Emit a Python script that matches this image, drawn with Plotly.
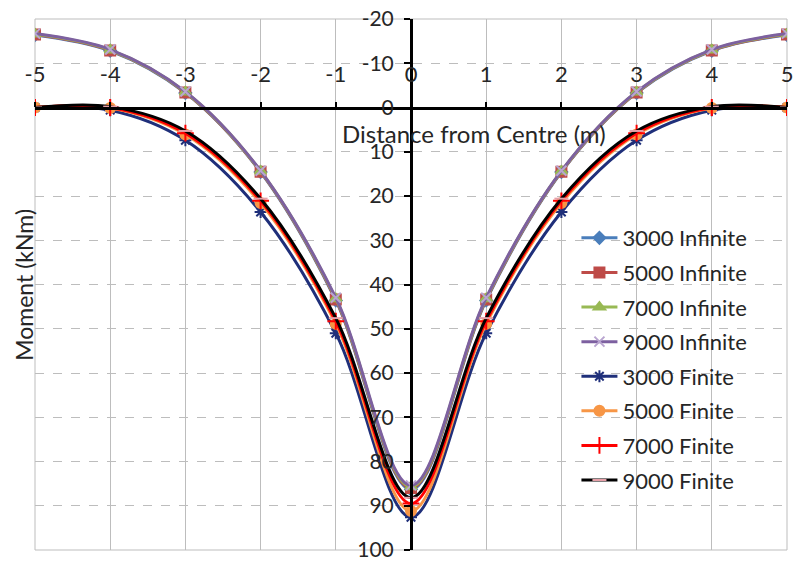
import plotly.graph_objects as go

# Distance from centre (m)
distance = [-5, -4, -3, -2, -1, 0, 1, 2, 3, 4, 5]

# Bending moment (kNm), infinite beam solutions
m_inf_3000 = [-16.4, -12.8, -3.3, 14.6, 43.6, 86.3, 43.6, 14.6, -3.3, -12.8, -16.4]
m_inf_5000 = [-16.5, -12.9, -3.4, 14.5, 43.4, 86.0, 43.4, 14.5, -3.4, -12.9, -16.5]
m_inf_7000 = [-16.6, -13.0, -3.5, 14.4, 43.2, 85.7, 43.2, 14.4, -3.5, -13.0, -16.6]
m_inf_9000 = [-16.7, -13.1, -3.6, 14.3, 43.0, 85.4, 43.0, 14.3, -3.6, -13.1, -16.7]

# Bending moment (kNm), finite beam solutions
m_fin_3000 = [0.0, 0.6, 7.4, 23.6, 51.0, 92.6, 51.0, 23.6, 7.4, 0.6, 0.0]
m_fin_5000 = [0.0, 0.1, 6.1, 21.6, 48.9, 91.2, 48.9, 21.6, 6.1, 0.1, 0.0]
m_fin_7000 = [0.0, 0.0, 5.8, 21.1, 48.3, 89.5, 48.3, 21.1, 5.8, 0.0, 0.0]
m_fin_9000 = [0.0, -0.2, 5.3, 20.6, 47.6, 88.2, 47.6, 20.6, 5.3, -0.2, 0.0]

x_ticks = [-5, -4, -3, -2, -1, 0, 1, 2, 3, 4, 5]
y_ticks = [-20, -10, 0, 10, 20, 30, 40, 50, 60, 70, 80, 90, 100]

series = [
    ("3000 Infinite", m_inf_3000, "#4A7EBB", "diamond", "#4A7EBB", 9),
    ("5000 Infinite", m_inf_5000, "#BE4B48", "square", "#BE4B48", 10),
    ("7000 Infinite", m_inf_7000, "#98B954", "triangle-up", "#98B954", 10),
    ("9000 Infinite", m_inf_9000, "#7D60A0", "x-thin-open", "#B9A5D0", 10),
    ("3000 Finite", m_fin_3000, "#1F2F7A", "asterisk-open", "#1F2F7A", 10),
    ("5000 Finite", m_fin_5000, "#F79646", "circle", "#F79646", 10),
    ("7000 Finite", m_fin_7000, "#FF0000", "cross-thin-open", "#FF0000", 12),
    ("9000 Finite", m_fin_9000, "#000000", "line-ew-open", "#E6A0A8", 10),
]

FONT = "Lato, Open Sans, sans-serif"
TXT = "#262626"
GRID = "#BDBDBD"

fig = go.Figure()
for i, (name, vals, color, sym, mcolor, msize) in enumerate(series):
    fig.add_trace(go.Scatter(
        x=distance, y=vals, name=name, mode="lines+markers",
        line=dict(color=color, width=3, shape="spline", smoothing=1.0),
        marker=dict(symbol=sym, size=msize, color=mcolor,
                    line=dict(color=mcolor, width=2)),
        legendgroup=f"g{i}",
    ))

fig.update_layout(
    width=798, height=566,
    margin=dict(l=35, r=5, t=15, b=10),
    paper_bgcolor="white", plot_bgcolor="white",
    font=dict(family=FONT, size=18, color=TXT),
    showlegend=True,
    legend=dict(
        x=0.72, y=0.627, xanchor="left", yanchor="top",
        bgcolor="rgba(0,0,0,0)", borderwidth=0,
        font=dict(family=FONT, size=22, color=TXT),
        tracegroupgap=3, itemwidth=36, traceorder="grouped",
    ),
    xaxis=dict(
        range=[-5, 5], tickvals=x_ticks, ticktext=[str(v) for v in x_ticks],
        showgrid=True, gridcolor=GRID, gridwidth=1,
        zeroline=False, showline=True, linecolor="black", linewidth=3,
        anchor="free", position=100 / 120, side="top",
        ticks="outside", ticklen=5, tickwidth=2, tickcolor="black",
        ticklabelstandoff=11, ticklabeloverflow="allow",
        tickfont=dict(family=FONT, size=22, color=TXT),
    ),
    yaxis=dict(
        range=[100, -20], tickvals=y_ticks, ticktext=[str(v) for v in y_ticks],
        showgrid=True, gridcolor=GRID, gridwidth=1, griddash="dash",
        zeroline=False, showline=True, linecolor="black", linewidth=3,
        anchor="free", position=0.5, side="left",
        ticks="outside", ticklen=6, tickwidth=2, tickcolor="black",
        ticklabelstandoff=6, ticklabeloverflow="allow",
        tickfont=dict(family=FONT, size=21, color=TXT),
    ),
    shapes=[
        dict(type="rect", xref="paper", yref="paper", x0=0, x1=1, y0=0, y1=1,
             line=dict(color=GRID, width=1), layer="below"),
    ],
    annotations=[
        dict(text="Distance from Centre (m)", xref="paper", yref="paper",
             x=0.584, y=0.784, xanchor="center", yanchor="middle",
             showarrow=False, font=dict(family=FONT, size=24, color=TXT)),
        dict(text="Moment (kNm)", xref="paper", yref="paper",
             x=-0.015, y=0.499, xanchor="center", yanchor="middle",
             textangle=-90, showarrow=False,
             font=dict(family=FONT, size=23, color=TXT)),
    ],
)

fig.write_html("out.html")
